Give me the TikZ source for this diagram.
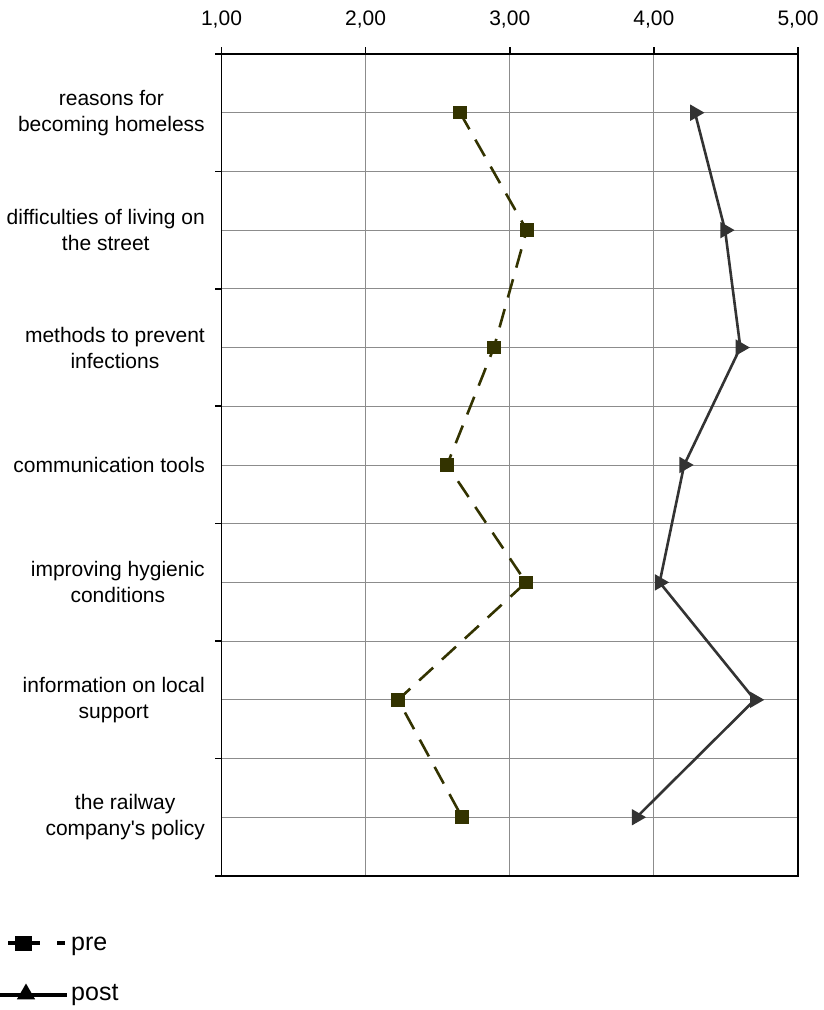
\documentclass[tikz,border=0pt]{standalone}
\usepackage{fontspec}
\setmainfont{Liberation Sans}[Ligatures=TeXOff]
\usetikzlibrary{shapes.geometric}
\definecolor{preclr}{HTML}{333300}
\definecolor{postclr}{HTML}{333333}
\definecolor{gridclr}{HTML}{8C8C8C}
\begin{document}
\begin{tikzpicture}[x=1pt,y=-1pt,
  lbl/.style={font=\fontsize{21}{26}\selectfont, inner sep=0pt},
  leglbl/.style={font=\fontsize{25}{30}\selectfont, inner sep=0pt, anchor=base west},
  catlbl/.style={lbl, align=center, anchor=east},
  gridline/.style={draw=gridclr, line width=0.9pt},
  axisline/.style={draw=black, line width=1.6pt},
  preline/.style={draw=preclr, line width=2.6pt, dash pattern=on 19pt off 12pt},
  postline/.style={draw=postclr, line width=2.6pt},
  presq/.style={rectangle, fill=preclr, minimum size=13.5pt, inner sep=0pt},
  posttri/.style={regular polygon, regular polygon sides=3, shape border rotate=-90, fill=postclr, minimum size=19pt, inner sep=0pt},
  legtri/.style={regular polygon, regular polygon sides=3, fill=black, minimum size=21pt, inner sep=0pt},
  legsq/.style={rectangle, fill=black, minimum width=17pt, minimum height=15pt, inner sep=0pt}]
\useasboundingbox (0,0) rectangle (824,1010);
\def\Xz{221.5}\def\Xu{144.125}\def\Yt{54}\def\Yh{58.71}
% grid
\foreach \k in {1,...,13} \draw[gridline] (\Xz,{\Yt+\k*\Yh}) -- (798,{\Yt+\k*\Yh});
\foreach \v in {2,3,4} \draw[gridline] ({\Xz+(\v-1)*\Xu},\Yt) -- ({\Xz+(\v-1)*\Xu},876);
% axes / frame
\draw[axisline] (\Xz,\Yt) rectangle (798,876);
\draw[axisline] (215,\Yt) -- (\Xz,\Yt);
\draw[axisline] (215,876) -- (\Xz,876);
\foreach \k in {1,...,6} \draw[axisline] (215,{\Yt+2*\k*\Yh}) -- (\Xz,{\Yt+2*\k*\Yh});
\foreach \v in {1,...,5} \draw[axisline] ({\Xz+(\v-1)*\Xu},47) -- ({\Xz+(\v-1)*\Xu},\Yt);
% axis labels
\node[lbl] (ax1) at ({\Xz+0*\Xu},20) {1,00};
\node[lbl] (ax2) at ({\Xz+1*\Xu},20) {2,00};
\node[lbl] (ax3) at ({\Xz+2*\Xu},20) {3,00};
\node[lbl] (ax4) at ({\Xz+3*\Xu},20) {4,00};
\node[lbl] (ax5) at ({\Xz+4*\Xu},20) {5,00};
% category labels
\node[catlbl] (c1) at (205,{\Yt+1*\Yh}) {reasons for\\becoming homeless};
\node[catlbl] (c2) at (205,{\Yt+3*\Yh}) {difficulties of living on\\the street};
\node[catlbl] (c3) at (205,{\Yt+5*\Yh}) {methods to prevent\\infections};
\node[catlbl] (c4) at (205,{\Yt+7*\Yh}) {communication tools};
\node[catlbl] (c5) at (205,{\Yt+9*\Yh}) {improving hygienic\\conditions};
\node[catlbl] (c6) at (205,{\Yt+11*\Yh}) {information on local\\support};
\node[catlbl] (c7) at (205,{\Yt+13*\Yh}) {the railway\\company's policy};
% data coordinates
\foreach \n/\v/\w [count=\i] in {1/2.655/4.285, 2/3.118/4.494, 3/2.89/4.60, 4/2.565/4.21, 5/3.113/4.04, 6/2.225/4.70, 7/2.669/3.88}{
  \coordinate (p\n) at ({\Xz+(\v-1)*\Xu},{\Yt+(2*\i-1)*\Yh});
  \coordinate (q\n) at ({\Xz+(\w-1)*\Xu},{\Yt+(2*\i-1)*\Yh});
}
\draw[preline] (p1) -- (p2) -- (p3) -- (p4) -- (p5) -- (p6) -- (p7);
\draw[postline] (q1) -- (q2) -- (q3) -- (q4) -- (q5) -- (q6) -- (q7);
\foreach \n in {1,...,7}{
  \node[presq] (pm\n) at (p\n) {};
  \node[posttri] (qm\n) at (q\n) {};
}
% legend
\coordinate (lpa) at (8,943);
\coordinate (lpb) at (65,943);
\draw[draw=black, line width=4pt, dash pattern=on 32pt off 17pt on 8pt off 10pt] (lpa) -- (lpb);
\node[legsq] (lpm) at (23.5,943.5) {};
\node[leglbl] (lpt) at (71,950) {pre};
\coordinate (lqa) at (0,995);
\coordinate (lqb) at (67,995);
\draw[draw=black, line width=4pt] (lqa) -- (lqb);
\node[legtri] (lqm) at (26,994) {};
\node[leglbl] (lqt) at (71,1000) {post};
\end{tikzpicture}
\end{document}
